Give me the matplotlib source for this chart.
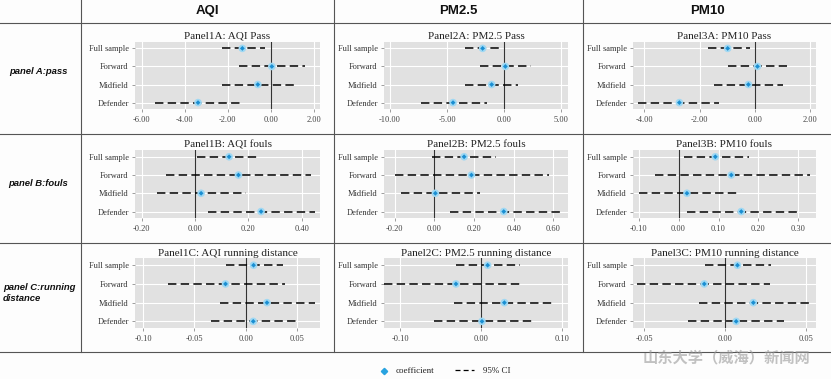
import matplotlib
matplotlib.use('Agg')
import matplotlib.pyplot as plt
from matplotlib.lines import Line2D

W, H = 831, 379
fig = plt.figure(figsize=(W / 100, H / 100), dpi=100, facecolor='#fdfdfd')

positions = ['Full sample', 'Forward', 'Midfield', 'Defender']
pollutants = ['AQI', 'PM2.5', 'PM10']
row_labels = ['panel A:pass', 'panel B:fouls', 'panel C:running\ndistance']
outcomes = ['Pass', 'fouls', 'running distance']
panel_letters = ['A', 'B', 'C']

# coefficients and 95% CI bounds (Full sample, Forward, Midfield, Defender)
aqi_pass_coef = [-1.32, 0.05, -0.60, -3.38]
aqi_pass_lo = [-2.25, -1.46, -2.28, -5.38]
aqi_pass_hi = [-0.25, 1.61, 1.10, -1.32]

aqi_fouls_coef = [0.128, 0.163, 0.023, 0.248]
aqi_fouls_lo = [0.009, -0.109, -0.144, 0.050]
aqi_fouls_hi = [0.244, 0.435, 0.190, 0.450]

aqi_run_coef = [0.0078, -0.0196, 0.0209, 0.0075]
aqi_run_lo = [-0.0196, -0.0757, -0.0250, -0.0340]
aqi_run_hi = [0.0369, 0.0390, 0.0680, 0.0505]

pm25_pass_coef = [-1.90, 0.09, -1.11, -4.49]
pm25_pass_lo = [-3.47, -2.13, -3.47, -7.27]
pm25_pass_hi = [-0.38, 2.31, 1.23, -1.55]

pm25_fouls_coef = [0.150, 0.187, 0.005, 0.350]
pm25_fouls_lo = [-0.012, -0.200, -0.166, 0.077]
pm25_fouls_hi = [0.313, 0.580, 0.232, 0.649]

pm25_run_coef = [0.0082, -0.0310, 0.0289, 0.0012]
pm25_run_lo = [-0.0313, -0.1200, -0.0334, -0.0580]
pm25_run_hi = [0.0478, 0.0520, 0.0890, 0.0627]

pm10_pass_coef = [-0.98, 0.10, -0.23, -2.73]
pm10_pass_lo = [-1.70, -0.98, -1.49, -4.24]
pm10_pass_hi = [-0.17, 1.16, 1.04, -1.28]

pm10_fouls_coef = [0.092, 0.132, 0.021, 0.157]
pm10_fouls_lo = [0.0125, -0.058, -0.100, 0.021]
pm10_fouls_hi = [0.1775, 0.329, 0.146, 0.300]

pm10_run_coef = [0.0074, -0.0131, 0.0172, 0.0066]
pm10_run_lo = [-0.0129, -0.0546, -0.0166, -0.0234]
pm10_run_hi = [0.0279, 0.0275, 0.0522, 0.0361]

data = [
    [(aqi_pass_coef, aqi_pass_lo, aqi_pass_hi),
     (aqi_fouls_coef, aqi_fouls_lo, aqi_fouls_hi),
     (aqi_run_coef, aqi_run_lo, aqi_run_hi)],
    [(pm25_pass_coef, pm25_pass_lo, pm25_pass_hi),
     (pm25_fouls_coef, pm25_fouls_lo, pm25_fouls_hi),
     (pm25_run_coef, pm25_run_lo, pm25_run_hi)],
    [(pm10_pass_coef, pm10_pass_lo, pm10_pass_hi),
     (pm10_fouls_coef, pm10_fouls_lo, pm10_fouls_hi),
     (pm10_run_coef, pm10_run_lo, pm10_run_hi)],
]

# axis limits and ticks per panel [column][row]
xlims = [
    [(-6.31, 2.29), (-0.225, 0.469), (-0.108, 0.0727)],
    [(-10.53, 5.57), (-0.254, 0.674), (-0.120, 0.1076)],
    [(-4.41, 2.22), (-0.114, 0.344), (-0.0571, 0.0559)],
]
xticks = [
    [[-6, -4, -2, 0, 2], [-0.2, 0, 0.2, 0.4], [-0.1, -0.05, 0, 0.05]],
    [[-10, -5, 0, 5], [-0.2, 0, 0.2, 0.4, 0.6], [-0.1, 0, 0.1]],
    [[-4, -2, 0, 2], [-0.1, 0, 0.1, 0.2, 0.3], [-0.05, 0, 0.05]],
]

col_px = [(135, 320), (384, 568), (633, 816)]
row_px = [(41.7, 109.3), (150, 218.3), (258.3, 328.3)]

serif = 'Liberation Serif'
sans = 'Liberation Sans'

for c in range(3):
    for r in range(3):
        x0, x1 = col_px[c]
        y0, y1 = row_px[r]
        ax = fig.add_axes([x0 / W, 1 - y1 / H, (x1 - x0) / W, (y1 - y0) / H])
        ax.set_facecolor('#e1e1e1')
        coef, lo, hi = data[c][r]
        ys = list(range(len(positions)))
        for y, l, h in zip(ys, lo, hi):
            ax.plot([l, h], [y, y], color='black', lw=1.1,
                    linestyle=(0, (5.5, 2.8)), zorder=3)
        ax.axvline(0, color='#333333', lw=0.8, zorder=2)
        ax.scatter(coef, ys, s=30, color='#9fd8f3', edgecolors='none', zorder=4)
        ax.scatter(coef, ys, s=6, marker='D', color='#1b8fd2', edgecolors='none', zorder=5)
        ax.set_xlim(xlims[c][r])
        ax.set_ylim(3.37, -0.37)
        ax.set_xticks(xticks[c][r])
        ax.set_xticklabels(['%.2f' % t for t in xticks[c][r]], fontfamily=serif, fontsize=6, color='#444444')
        ax.set_yticks(ys)
        ax.set_yticklabels(positions, fontfamily=serif, fontsize=6, color='#333333')
        ax.tick_params(length=2.5, width=0.5, color='#777777', pad=2)
        ax.grid(True, color='white', lw=0.8)
        ax.set_axisbelow(True)
        for s in ax.spines.values():
            s.set_visible(False)
        ax.set_title('Panel%d%s: %s %s' % (c + 1, panel_letters[r], pollutants[c], outcomes[r]),
                     fontfamily=serif, fontsize=8, color='#222222', pad=2)

# table lines
line_col = '#555555'
for x in [81, 334, 583]:
    fig.add_artist(Line2D([x / W, x / W], [1, 1 - 352 / H], color=line_col, lw=0.8))
for y in [23, 134, 243, 352]:
    fig.add_artist(Line2D([0, 1], [1 - y / H, 1 - y / H], color=line_col, lw=0.8))

for x, name in zip([207, 458, 707], pollutants):
    fig.text(x / W, 1 - 11 / H, name, ha='center', va='center', fontfamily=sans,
             fontweight='bold', fontsize=9.5, color='#111111')

fig.text(38 / W, 1 - 71.5 / H, row_labels[0], ha='center', va='center', fontfamily=sans,
         fontweight='bold', fontstyle='italic', fontsize=6.8, color='#111111')
fig.text(38 / W, 1 - 183 / H, row_labels[1], ha='center', va='center', fontfamily=sans,
         fontweight='bold', fontstyle='italic', fontsize=6.8, color='#111111')
fig.text(3 / W, 1 - 293 / H, row_labels[2], ha='left', va='center', fontfamily=sans,
         fontweight='bold', fontstyle='italic', fontsize=6.8, color='#111111', linespacing=1.4)

# legend
fig.add_artist(Line2D([384 / W], [1 - 371 / H], marker='D', markersize=3.2,
                      color='#29a3e0', linestyle='none'))
fig.text(396 / W, 1 - 371 / H, 'coefficient', ha='left', va='center', fontfamily=serif,
         fontsize=6.5, color='#222222')
fig.add_artist(Line2D([455 / W, 474 / W], [1 - 370 / H, 1 - 370 / H], color='black',
                      lw=0.9, linestyle=(0, (4, 2.5))))
fig.text(483 / W, 1 - 371 / H, '95% CI', ha='left', va='center', fontfamily=serif,
         fontsize=6.5, color='#222222')

# watermark
fig.text(726 / W, 1 - 357 / H, '山东大学（威海）新闻网', ha='center', va='center',
         fontfamily=['Noto Sans CJK SC', 'DejaVu Sans'], fontsize=11, fontweight='bold',
         color='#9a9a9a', alpha=0.6)

fig.savefig('out.png', dpi=100, facecolor=fig.get_facecolor())
